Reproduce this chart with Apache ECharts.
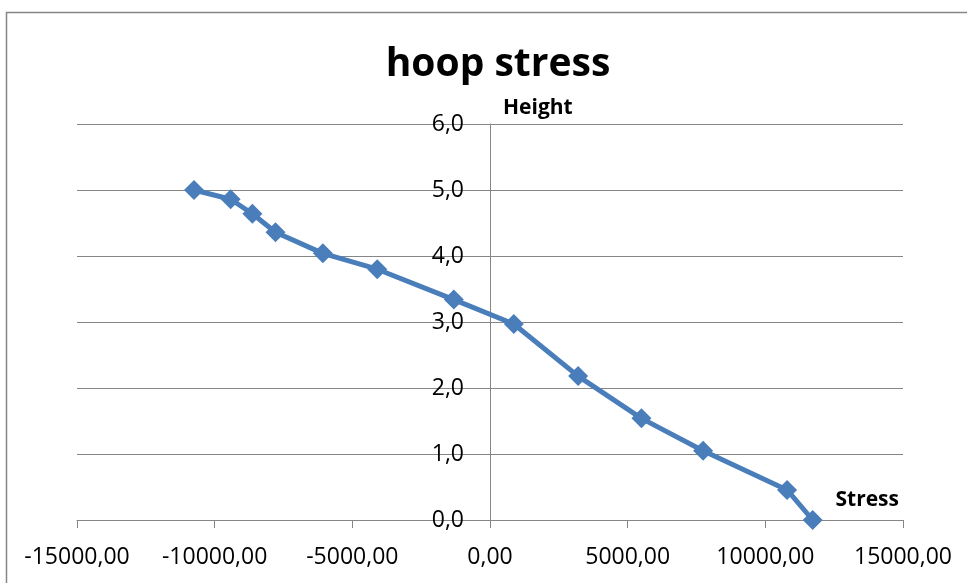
<!DOCTYPE html>
<html>
<head>
<meta charset="utf-8">
<title>hoop stress</title>
<script src="https://cdn.jsdelivr.net/npm/echarts@6/dist/echarts.min.js"></script>
<style>
  html, body { margin: 0; padding: 0; background: #ffffff; }
  #chart { width: 967px; height: 583px; }
</style>
</head>
<body>
<div id="chart"></div>
<script>
// Hoop stress along the wall height
const stress = [-10750, -9420, -8630, -7790, -6070, -4095, -1314, 864, 3200, 5500, 7740, 10790, 11720];
const height = [5.0, 4.86, 4.64, 4.36, 4.04, 3.80, 3.34, 2.97, 2.18, 1.54, 1.05, 0.455, 0.0];

const xTicks = { min: -15000, max: 15000, step: 5000 };
const yTicks = { min: 0, max: 6, step: 1 };

const points = stress.map((s, i) => [s, height[i]]);

const gridGray = '#868686';
const fontFamily = '"Open Sans", "Noto Sans", sans-serif';

const chartW = 967;
const gridBox = { left: 77, right: 64, top: 124, bottom: 63 };
// Vertical axis sits where Stress = 0
const plotW = chartW - gridBox.left - gridBox.right;
const yAxisOffset = -plotW * (0 - xTicks.min) / (xTicks.max - xTicks.min);

const chart = echarts.init(document.getElementById('chart'), null, { renderer: 'canvas' });

chart.setOption({
  animation: false,
  backgroundColor: '#ffffff',
  title: {
    text: 'hoop stress',
    left: 493,
    top: 40,
    textAlign: 'center',
    textStyle: { fontFamily, fontSize: 39, fontWeight: 'bold', color: '#000000' }
  },
  graphic: [{
    type: 'rect',
    shape: { x: 6.5, y: 12.5, width: 1000, height: 600 },
    style: { fill: 'none', stroke: gridGray, lineWidth: 1.5 },
    silent: true
  }],
  grid: gridBox,
  xAxis: {
    type: 'value',
    min: xTicks.min,
    max: xTicks.max,
    interval: xTicks.step,
    name: 'Stress',
    nameLocation: 'end',
    nameGap: -4,
    nameTextStyle: {
      fontFamily, fontSize: 21, fontWeight: 'bold', color: '#000000',
      align: 'right', verticalAlign: 'bottom', padding: [0, 0, 9, 0]
    },
    axisLine: { show: true, onZero: false, lineStyle: { color: gridGray, width: 1 } },
    axisTick: { show: true, length: 8, lineStyle: { color: gridGray } },
    axisLabel: {
      margin: 26,
      fontFamily, fontSize: 23, color: '#000000',
      formatter: v => v.toFixed(2).replace('.', ',')
    },
    splitLine: { show: false }
  },
  yAxis: {
    type: 'value',
    position: 'left',
    offset: yAxisOffset,
    min: yTicks.min,
    max: yTicks.max,
    interval: yTicks.step,
    name: 'Height',
    nameLocation: 'end',
    nameGap: 5,
    nameTextStyle: {
      fontFamily, fontSize: 21, fontWeight: 'bold', color: '#000000',
      align: 'left', padding: [0, 0, 0, 13]
    },
    axisLine: { show: true, onZero: false, lineStyle: { color: gridGray, width: 1 } },
    axisTick: { show: true, length: 7, lineStyle: { color: gridGray } },
    axisLabel: {
      margin: 26,
      fontFamily, fontSize: 23, color: '#000000',
      formatter: v => v.toFixed(1).replace('.', ',')
    },
    splitLine: { show: true, lineStyle: { color: gridGray, width: 1 } }
  },
  series: [{
    type: 'line',
    data: points,
    symbol: 'diamond',
    symbolSize: 20,
    showSymbol: true,
    lineStyle: { color: '#4A7EBB', width: 5 },
    itemStyle: { color: '#4A7EBB' }
  }]
});
</script>
</body>
</html>
